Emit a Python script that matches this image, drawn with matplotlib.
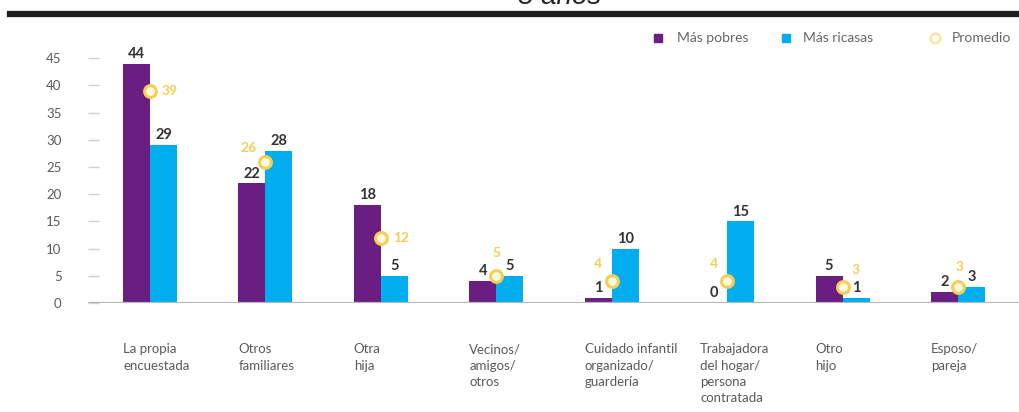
import matplotlib
matplotlib.use("Agg")
import matplotlib.pyplot as plt
from matplotlib.lines import Line2D
from matplotlib.patches import Rectangle
import numpy as np

plt.rcParams['font.family'] = ['Lato', 'DejaVu Sans']

# ---- data ----
categories = ["La propia\nencuestada", "Otros\nfamiliares", "Otra\nhija",
              "Vecinos/\namigos/\notros", "Cuidado infantil\norganizado/\nguardería",
              "Trabajadora\ndel hogar/\npersona\ncontratada", "Otro\nhijo", "Esposo/\npareja"]
mas_pobres = [44, 22, 18, 4, 1, 0, 5, 2]
mas_ricasas = [29, 28, 5, 5, 10, 15, 1, 3]
promedio = [39, 26, 12, 5, 4, 4, 3, 3]
series_names = ["Más pobres", "Más ricasas", "Promedio"]
yticks = [0, 5, 10, 15, 20, 25, 30, 35, 40, 45]
title = "5 años"

# promedio label offsets in pixels (dx, dy) and alignment
prom_offsets = [(12, 0, 'left'), (-9, 14, 'right'), (12, 0, 'left'), (0, 23, 'center'),
                (-14, 17, 'center'), (-13, 17, 'center'), (13, 17, 'center'), (2, 20, 'center')]

PURPLE = '#6B1E82'
CYAN = '#00AEEF'
YELLOW = '#F5CE55'
GRAY_TXT = '#5a5a5a'

W, H = 1019, 412
fig = plt.figure(figsize=(W / 100, H / 100), dpi=100)

ax_left, ax_right = 88, 1019
ax_bottom = 303
px_per_unit_y = 5.44
ymax = 50
ax_h = ymax * px_per_unit_y
ax = fig.add_axes([ax_left / W, (H - ax_bottom) / H, (ax_right - ax_left) / W, ax_h / H])

x = np.arange(len(categories))
px_per_group = (958 - 150) / 7.0
bw = 27 / px_per_group
ax.set_xlim(-(150 - ax_left) / px_per_group, 7 + (ax_right - 958) / px_per_group)
ax.set_ylim(0, ymax)

ax.bar(x - bw / 2, mas_pobres, width=bw, color=PURPLE, zorder=2)
ax.bar(x + bw / 2, mas_ricasas, width=bw, color=CYAN, zorder=2)
ax.axhline(0, color='#b5b5b5', lw=1.6, zorder=3)

ax.plot(x, promedio, 'o', ls='none', mfc='#FFF9E0', mec=YELLOW, ms=8.5, mew=2.2, zorder=5)

pt = 0.72
for i in range(len(x)):
    ax.annotate(str(mas_pobres[i]), (x[i] - bw / 2, mas_pobres[i]), xytext=(0, 2),
                textcoords='offset points', ha='center', va='bottom', fontsize=10.5,
                fontweight='bold', color='#333333', zorder=6)
    ax.annotate(str(mas_ricasas[i]), (x[i] + bw / 2, mas_ricasas[i]), xytext=(0, 2),
                textcoords='offset points', ha='center', va='bottom', fontsize=10.5,
                fontweight='bold', color='#333333', zorder=6)
    dx, dy, ha = prom_offsets[i]
    ax.annotate(str(promedio[i]), (x[i], promedio[i]), xytext=(dx * pt, dy * pt),
                textcoords='offset points', ha=ha, va='center', fontsize=10,
                fontweight='bold', color=YELLOW, zorder=6)

# category labels, left aligned with the purple bar
for i, c in enumerate(categories):
    ax.annotate(c, (x[i] - bw, 0), xytext=(0, -(343 - ax_bottom) * pt),
                textcoords='offset points', ha='left', va='top', fontsize=9.5,
                color=GRAY_TXT, linespacing=1.45, annotation_clip=False)

ax.set_xticks([])
ax.set_yticks(yticks)
ax.set_yticklabels([str(v) for v in yticks])
ax.tick_params(axis='y', direction='in', length=8, width=1, color='#cfcfcf',
               pad=19, labelsize=9.5, labelcolor=GRAY_TXT)
for s in ax.spines.values():
    s.set_visible(False)
ax.patch.set_alpha(0)

# top black rule
fig.add_artist(Line2D([10 / W, 1.0], [1 - 13.5 / H, 1 - 13.5 / H], color='#1e1e1e', lw=4.5,
                      transform=fig.transFigure))
# cut-off title
fig.text(560 / W, 1 - 4 / H, title, ha='center', va='baseline', fontsize=20,
         style='italic', family='Liberation Sans', color='#222222')

# legend (manual, to match spacing)
ly = 1 - 38 / H
leg = [(658, PURPLE, 's', series_names[0], 677), (786, CYAN, 's', series_names[1], 803),
       (935, YELLOW, 'o', series_names[2], 952)]
for mx, col, mk, lab, tx in leg:
    if mk == 's':
        fig.add_artist(Line2D([mx / W], [ly], marker='s', ms=6, color=col, ls='none',
                              transform=fig.transFigure))
    else:
        fig.add_artist(Line2D([mx / W], [ly], marker='o', ms=7, mfc='#FFFBEA', mec='#F8E3A0',
                              mew=1.6, ls='none', transform=fig.transFigure))
    fig.text(tx / W, ly, lab, ha='left', va='center', fontsize=10, color='#666666')

fig.savefig('out.png', dpi=100)
